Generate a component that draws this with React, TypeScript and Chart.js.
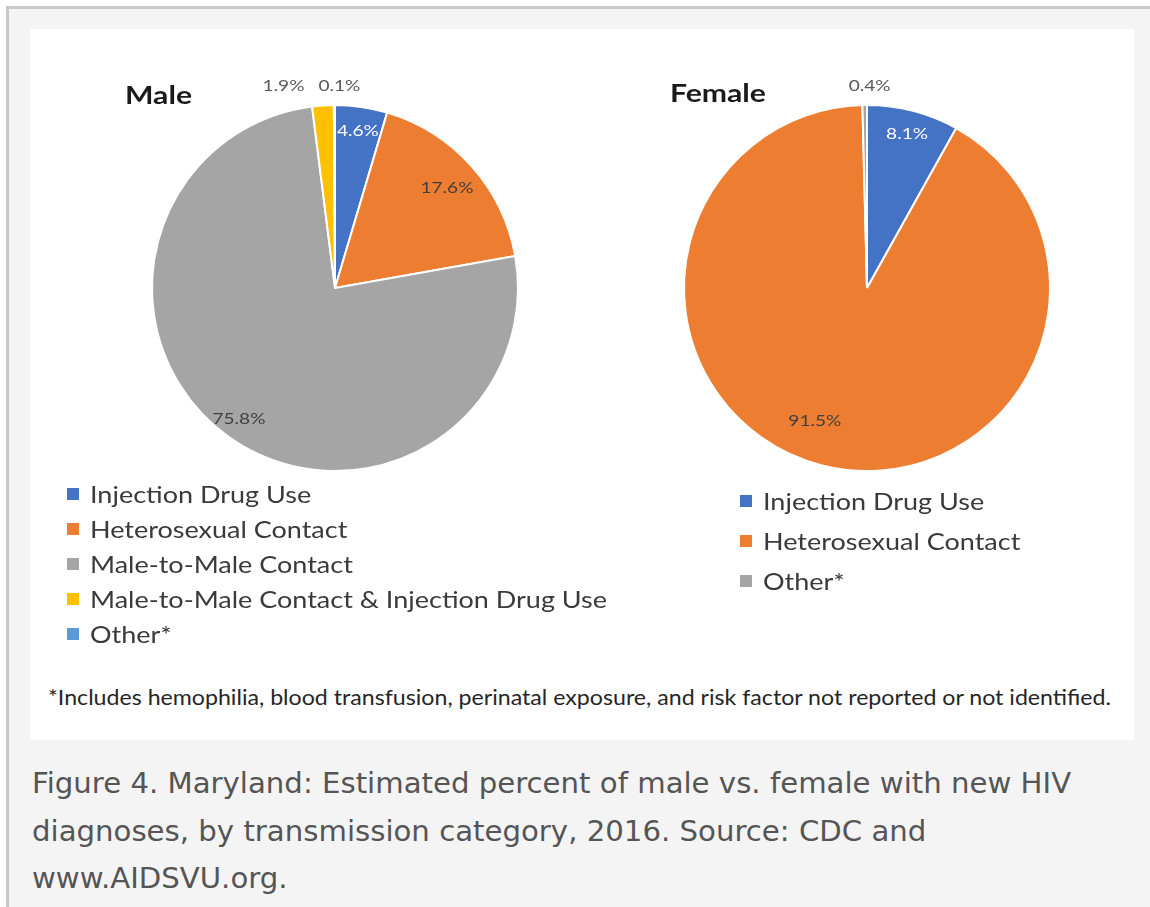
import React, { useEffect, useRef } from "react";
import { Chart, registerables } from "chart.js";

Chart.register(...registerables);

// ---------- data ----------
const maleCategories = [
  "Injection Drug Use",
  "Heterosexual Contact",
  "Male-to-Male Contact",
  "Male-to-Male Contact & Injection Drug Use",
  "Other*",
];
const maleValues = [4.6, 17.6, 75.8, 1.9, 0.1];
const maleColors = ["#4472C4", "#ED7D31", "#A5A5A5", "#FFC000", "#5B9BD5"];
const maleLabelColors = ["#ffffff", "#404040", "#404040", "#595959", "#595959"];
// label placement: radial fraction of radius (null = outside, above the pie), angular fraction within slice
const maleLabelRadius: (number | null)[] = [0.87, 0.82, 0.885, null, null];
const maleLabelAngle = [0.5, 0.5, 0.5, 0.5, 0.5];

const femaleCategories = ["Injection Drug Use", "Heterosexual Contact", "Other*"];
const femaleValues = [8.1, 91.5, 0.4];
const femaleColors = ["#4472C4", "#ED7D31", "#A5A5A5"];
const femaleLabelColors = ["#ffffff", "#404040", "#595959"];
const femaleLabelRadius: (number | null)[] = [0.87, 0.78, null];
const femaleLabelAngle = [0.5, 0.523, 0.5];

const maleTitle = "Male";
const femaleTitle = "Female";
const footnote =
  "*Includes hemophilia, blood transfusion, perinatal exposure, and risk factor not reported or not identified.";
const captionLines = [
  "Figure 4. Maryland: Estimated percent of male vs. female with new HIV",
  "diagnoses, by transmission category, 2016. Source: CDC and",
  "www.AIDSVU.org.",
];

// ---------- helpers ----------
const FIG_FAMILY = "Lato, 'Open Sans', sans-serif";
let mctx: CanvasRenderingContext2D | null = null;
function measure(text: string, font: string): number {
  if (!mctx) mctx = document.createElement("canvas").getContext("2d");
  mctx!.font = font;
  return mctx!.measureText(text).width;
}

function StretchText(props: {
  text: string;
  font: string;
  size: number;
  left: number;
  cy: number;
  scale: number;
  color?: string;
}) {
  const { text, font, size, left, cy, scale, color } = props;
  return (
    <span
      style={{
        position: "absolute",
        left,
        top: cy - size / 2,
        font,
        lineHeight: `${size}px`,
        whiteSpace: "nowrap",
        color: color || "#262626",
        transform: `scaleX(${scale})`,
        transformOrigin: "left center",
      }}
    >
      {text}
    </span>
  );
}

function drawText(
  ctx: CanvasRenderingContext2D,
  text: string,
  x: number,
  y: number,
  stretch: number,
  color: string
) {
  ctx.save();
  ctx.translate(x, y);
  ctx.scale(stretch, 1);
  ctx.fillStyle = color;
  ctx.fillText(text, 0, 0);
  ctx.restore();
}

const sliceLabelPlugin = {
  id: "sliceLabels",
  afterDatasetsDraw(chart: any, _args: any, opts: any) {
    const ctx: CanvasRenderingContext2D = chart.ctx;
    const meta = chart.getDatasetMeta(0);
    const ds = chart.data.datasets[0];
    ctx.save();
    ctx.font = opts.font;
    ctx.textAlign = "center";
    ctx.textBaseline = "middle";
    const stretch = opts.stretch;
    const outside: any[] = [];
    meta.data.forEach((arc: any, i: number) => {
      const p = arc.getProps(["x", "y", "startAngle", "endAngle", "outerRadius"], true);
      const ang = p.startAngle + (p.endAngle - p.startAngle) * opts.angle[i];
      const text = Number(ds.data[i]).toFixed(1) + "%";
      const w = ctx.measureText(text).width * stretch;
      const rf = opts.radius[i];
      if (rf != null) {
        const lx = p.x + Math.cos(ang) * p.outerRadius * rf;
        const ly = p.y + Math.sin(ang) * p.outerRadius * rf;
        drawText(ctx, text, lx, ly, stretch, opts.colors[i]);
      } else {
        outside.push({
          text,
          w,
          cx: p.x + Math.cos(ang) * p.outerRadius + opts.outsideShift,
          cy: p.y - p.outerRadius - opts.outsideGap,
          color: opts.colors[i],
        });
      }
    });
    outside.sort((a, b) => a.cx - b.cx);
    for (let k = outside.length - 2; k >= 0; k--) {
      const next = outside[k + 1];
      const cur = outside[k];
      const maxRight = next.cx - next.w / 2 - opts.minGap;
      if (cur.cx + cur.w / 2 > maxRight) cur.cx = maxRight - cur.w / 2;
    }
    outside.forEach((o) => drawText(ctx, o.text, o.cx, o.cy, stretch, o.color));
    ctx.restore();
  },
};

function PieChart(props: {
  labels: string[];
  values: number[];
  colors: string[];
  labelColors: string[];
  labelRadius: (number | null)[];
  labelAngle: number[];
  left: number;
  top: number;
  width: number;
  height: number;
  padding: { left: number; right: number; top: number; bottom: number };
}) {
  const ref = useRef<HTMLCanvasElement>(null);
  useEffect(() => {
    const labelFont = `16px ${FIG_FAMILY}`;
    const labelStretch = 53 / measure("17.6%", labelFont);
    const chart = new Chart(ref.current!, {
      type: "pie",
      data: {
        labels: props.labels,
        datasets: [
          {
            data: props.values,
            backgroundColor: props.colors,
            borderColor: "#ffffff",
            borderWidth: 2,
          },
        ],
      },
      options: {
        responsive: false,
        animation: false,
        events: [],
        layout: { padding: props.padding },
        plugins: {
          legend: { display: false },
          tooltip: { enabled: false },
          sliceLabels: {
            font: labelFont,
            stretch: labelStretch,
            radius: props.labelRadius,
            angle: props.labelAngle,
            colors: props.labelColors,
            outsideGap: 19,
            outsideShift: 5,
            minGap: 14,
          },
        } as any,
      },
      plugins: [sliceLabelPlugin as any],
    });
    return () => chart.destroy();
  }, []);
  return (
    <canvas
      ref={ref}
      width={props.width}
      height={props.height}
      style={{
        position: "absolute",
        left: props.left,
        top: props.top,
        width: props.width,
        height: props.height,
      }}
    />
  );
}

function Legend(props: {
  labels: string[];
  colors: string[];
  squareLeft: number;
  textLeft: number;
  firstY: number;
  step: number;
  scale: number;
  font: string;
  size: number;
}) {
  return (
    <>
      {props.labels.map((lab, i) => {
        const cy = props.firstY + i * props.step;
        return (
          <React.Fragment key={i}>
            <div
              style={{
                position: "absolute",
                left: props.squareLeft,
                top: cy - 6,
                width: 12,
                height: 12,
                background: props.colors[i],
              }}
            />
            <StretchText
              text={lab}
              font={props.font}
              size={props.size}
              left={props.textLeft}
              cy={cy}
              scale={props.scale}
              color="#3a3a3a"
            />
          </React.Fragment>
        );
      })}
    </>
  );
}

export default function App() {
  const legendSize = 23;
  const legendFont = `${legendSize}px ${FIG_FAMILY}`;
  const legendScale =
    517 / measure("Male-to-Male Contact & Injection Drug Use", legendFont);
  const titleSize = 24;
  const titleFont = `bold ${titleSize}px ${FIG_FAMILY}`;
  const titleScale = 67 / measure(maleTitle, titleFont);
  const footSize = 22;
  const footFont = `${footSize}px ${FIG_FAMILY}`;
  const footScale = 1064 / measure(footnote, footFont);

  return (
    <div style={{ position: "relative", width: 1150, height: 907, overflow: "hidden" }}>
      <style>{"body{margin:0;background:#ffffff}"}</style>
      <div
        style={{
          position: "absolute",
          left: 6,
          top: 6,
          width: 1144,
          height: 901,
          boxSizing: "border-box",
          background: "#f4f4f4",
          borderTop: "3px solid #c8c8c8",
          borderLeft: "3px solid #c8c8c8",
        }}
      />
      <div
        style={{
          position: "absolute",
          left: 30,
          top: 29,
          width: 1104,
          height: 711,
          background: "#ffffff",
        }}
      />
      <PieChart
        labels={maleCategories}
        values={maleValues}
        colors={maleColors}
        labelColors={maleLabelColors}
        labelRadius={maleLabelRadius}
        labelAngle={maleLabelAngle}
        left={30}
        top={29}
        width={550}
        height={460}
        padding={{ left: 121, right: 61, top: 75, bottom: 17 }}
      />
      <PieChart
        labels={femaleCategories}
        values={femaleValues}
        colors={femaleColors}
        labelColors={femaleLabelColors}
        labelRadius={femaleLabelRadius}
        labelAngle={femaleLabelAngle}
        left={580}
        top={29}
        width={550}
        height={460}
        padding={{ left: 103, right: 79, top: 75, bottom: 17 }}
      />
      <StretchText text={maleTitle} font={titleFont} size={titleSize} left={125} cy={95} scale={titleScale} color="#1a1a1a" />
      <StretchText text={femaleTitle} font={titleFont} size={titleSize} left={670} cy={93} scale={titleScale} color="#1a1a1a" />
      <Legend
        labels={maleCategories}
        colors={maleColors}
        squareLeft={67}
        textLeft={90}
        firstY={494}
        step={35}
        scale={legendScale}
        font={legendFont}
        size={legendSize}
      />
      <Legend
        labels={femaleCategories}
        colors={femaleColors}
        squareLeft={740}
        textLeft={763}
        firstY={501}
        step={40}
        scale={legendScale}
        font={legendFont}
        size={legendSize}
      />
      <StretchText text={footnote} font={footFont} size={footSize} left={48} cy={697} scale={footScale} color="#262626" />
      <div
        style={{
          position: "absolute",
          left: 32,
          top: 760,
          font: "29.2px 'DejaVu Sans', sans-serif",
          lineHeight: "47.5px",
          color: "#555555",
          whiteSpace: "nowrap",
        }}
      >
        {captionLines.map((l, i) => (
          <div key={i}>{l}</div>
        ))}
      </div>
    </div>
  );
}
